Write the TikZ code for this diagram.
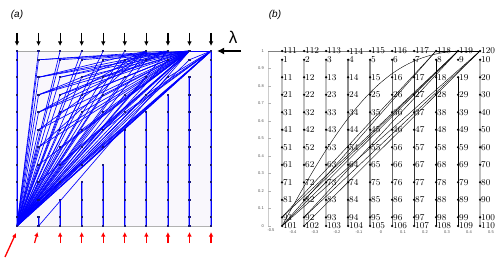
\documentclass[tikz,border=0pt]{standalone}
\usepackage{fontspec}
\newfontfamily\lsans{Liberation Sans}
\usetikzlibrary{arrows.meta}
\definecolor{lav}{RGB}{249,247,252}
\definecolor{navy}{RGB}{25,25,120}
\begin{document}
\begin{tikzpicture}[x=1pt,y=-1pt,
  meshA/.style={blue, line width=0.65pt},
  colA/.style={blue!40, line width=2pt},
  colAin/.style={blue, line width=0.7pt},
  dotA/.style={fill=navy, inner sep=0pt, minimum size=2.2pt, draw=none, rectangle},
  downarr/.style={-{Latex[length=4.5pt,width=4.5pt]}, line width=1.2pt, black},
  uparr/.style={-{Latex[length=4.5pt,width=4.5pt]}, line width=1.2pt, red},
  dotB/.style={circle, fill=black, inner sep=0pt, minimum size=2.5pt},
  labB/.style={anchor=west, inner sep=0pt, font=\fontsize{9}{9}\selectfont},
  tickB/.style={font=\fontsize{4}{4}\selectfont\lsans, inner sep=0pt, text=black!70},
  bundle/.style={black, line width=0.4pt},
  colBlight/.style={black!25, line width=1.8pt},
  colBmid/.style={black!45, line width=2pt},
  colBdark/.style={black!80, line width=0.8pt},
  colBblack/.style={black, line width=0.8pt},
  panel/.style={font=\fontsize{10}{10}\selectfont\lsans\itshape, inner sep=0pt}
]
\useasboundingbox (0,0) rectangle (502,262);
% ---------- coordinates ----------
\foreach \c in {1,...,10}{
  \foreach \r in {1,...,10}{
    \pgfmathtruncatemacro\n{10*(\r-1)+\c}
    \coordinate (a\n) at ({17+(\c-1)*21.56},{226-175*(1.05-0.1*\r)});
    \coordinate (b\n) at ({381+220*(-0.45+0.1*(\c-1))},{226-175*(1.05-0.1*\r)});
  }
  \pgfmathtruncatemacro\m{100+\c}
  \pgfmathtruncatemacro\t{110+\c}
  \coordinate (a\m) at ({17+(\c-1)*21.56},226);
  \coordinate (a\t) at ({17+(\c-1)*21.56},51);
  \coordinate (b\m) at ({381+220*(-0.45+0.1*(\c-1))},226);
  \coordinate (b\t) at ({381+220*(-0.45+0.1*(\c-1))},51);
}
% ---------- panel (a) ----------
\node[panel] (pa) at (17,15) {(a)};
\fill[lav] (a111) rectangle (a110);
\draw[black!35, line width=0.6pt] (a111) -- (a119);
\draw[black!30, line width=0.6pt] (a101) -- (a110);
\foreach \p/\q in {111/101,92/102,83/103,74/104,65/105,46/106,37/107,28/108,19/109,120/110}{
  \draw[colA] (a\p) -- (a\q);
  \draw[colAin] (a\p) -- (a\q);
}
\foreach \q in {112,113,114,115,116,117,118,119,120,2,3,4,5,6,7,8,9,12,13,14,15,16,17,18,22,23,24,25,26,27,32,33,34,35,36,42,43,44,45,52,53,54,55,62,63,64,72,73,82}{
  \draw[meshA] (a101) -- (a\q);
}
\foreach \q in {2,3,4,5,6,7,12,13,14,15,16,22,23,24,25,26,32,33,34,35,42,43,44,45,52,53,54,62,63,72,101}{
  \draw[meshA] (a119) -- (a\q);
}
\foreach \q in {9,18,27,36,45,55,64,73,82,119}{
  \draw[meshA] (a120) -- (a\q);
}
\draw[meshA, line width=1pt] (a120) -- (a101);
\draw[meshA] (a102) -- (a119);
\foreach \q in {2,12,22,13,23,32}{
  \draw[meshA] (a118) -- (a\q);
}
\foreach \q in {12,22,32,42,52}{
  \draw[meshA] (a117) -- (a\q);
}
\foreach \n in {1,...,120}{
  \node[dotA] (da\n) at (a\n) {};
}
\foreach \c in {1,...,10}{
  \pgfmathtruncatemacro\t{110+\c}
  \draw[downarr] ([yshift=18pt]a\t) -- ([yshift=5pt]a\t);
}
\foreach \c in {3,...,10}{
  \pgfmathtruncatemacro\m{100+\c}
  \draw[uparr] ([yshift=-17pt]a\m) -- ([yshift=-6pt]a\m);
}
\draw[uparr] ([xshift=-4pt,yshift=-17pt]a102) -- ([xshift=-1pt,yshift=-6pt]a102);
\draw[uparr, line width=1.3pt] ([xshift=-12pt,yshift=-31pt]a101) -- ([xshift=-1pt,yshift=-7pt]a101);
\node[font=\fontsize{17}{17}\selectfont\lsans, inner sep=0pt] (lam) at (233,37) {λ};
\coordinate (lamstart) at (241,51);
\draw[-{Latex[length=7pt,width=7pt]}, line width=1.8pt] (lamstart) -- ([xshift=6pt]a120);
% ---------- panel (b) ----------
\node[panel] (pb) at (275,15) {(b)};
\draw[black!20, line width=0.6pt] (268,226) -- (268,51);
\foreach \i/\l in {0/0,1/0.1,2/0.2,3/0.3,4/0.4,5/0.5,6/0.6,7/0.7,8/0.8,9/0.9,10/1}{
  \draw[black!30, line width=0.4pt] (268,{226-17.5*\i}) -- (271,{226-17.5*\i});
  \node[tickB, anchor=east] (yl\i) at (264,{226-17.5*\i}) {\l};
}
\node[tickB] (xl0) at (271,230) {-0.5};
\foreach \i/\l in {1/-0.4,2/-0.3,3/-0.2,4/-0.1,5/0,6/0.1,7/0.2,8/0.3,9/0.4,10/0.5}{
  \node[tickB] (xl\i) at ({271+22*\i},232) {\l};
}
\draw[black!50, line width=0.5pt] (268,51) -- (b118);
\draw[black, line width=0.7pt] (b118) -- (b120);
\foreach \c in {1,2,3,10}{
  \pgfmathtruncatemacro\m{100+\c}
  \draw[colBlight] (b\c) -- (b\m);
}
\draw[colBmid] (b4) -- (b104);
\draw[black!45, line width=1.2pt] (b5) -- (b105);
\draw[black!60, line width=1pt] (b6) -- (b106);
\draw[colBdark] (b7) -- (b107);
\draw[colBblack] (b8) -- (b108);
\draw[colBblack] (b19) -- (b109);
\foreach \p/\q in {101/118,101/119,91/119,92/119,101/120,92/120,102/120,82/119,91/118}{
  \draw[bundle] (b\p) -- (b\q);
}
\draw[bundle] (b101) .. controls (350,100) and (390,55) .. (b119);
\foreach \n in {1,...,120}{
  \node[dotB] (db\n) at (b\n) {};
  \node[labB] (lb\n) at ([xshift=1pt]b\n) {\n};
}
\end{tikzpicture}
\end{document}
